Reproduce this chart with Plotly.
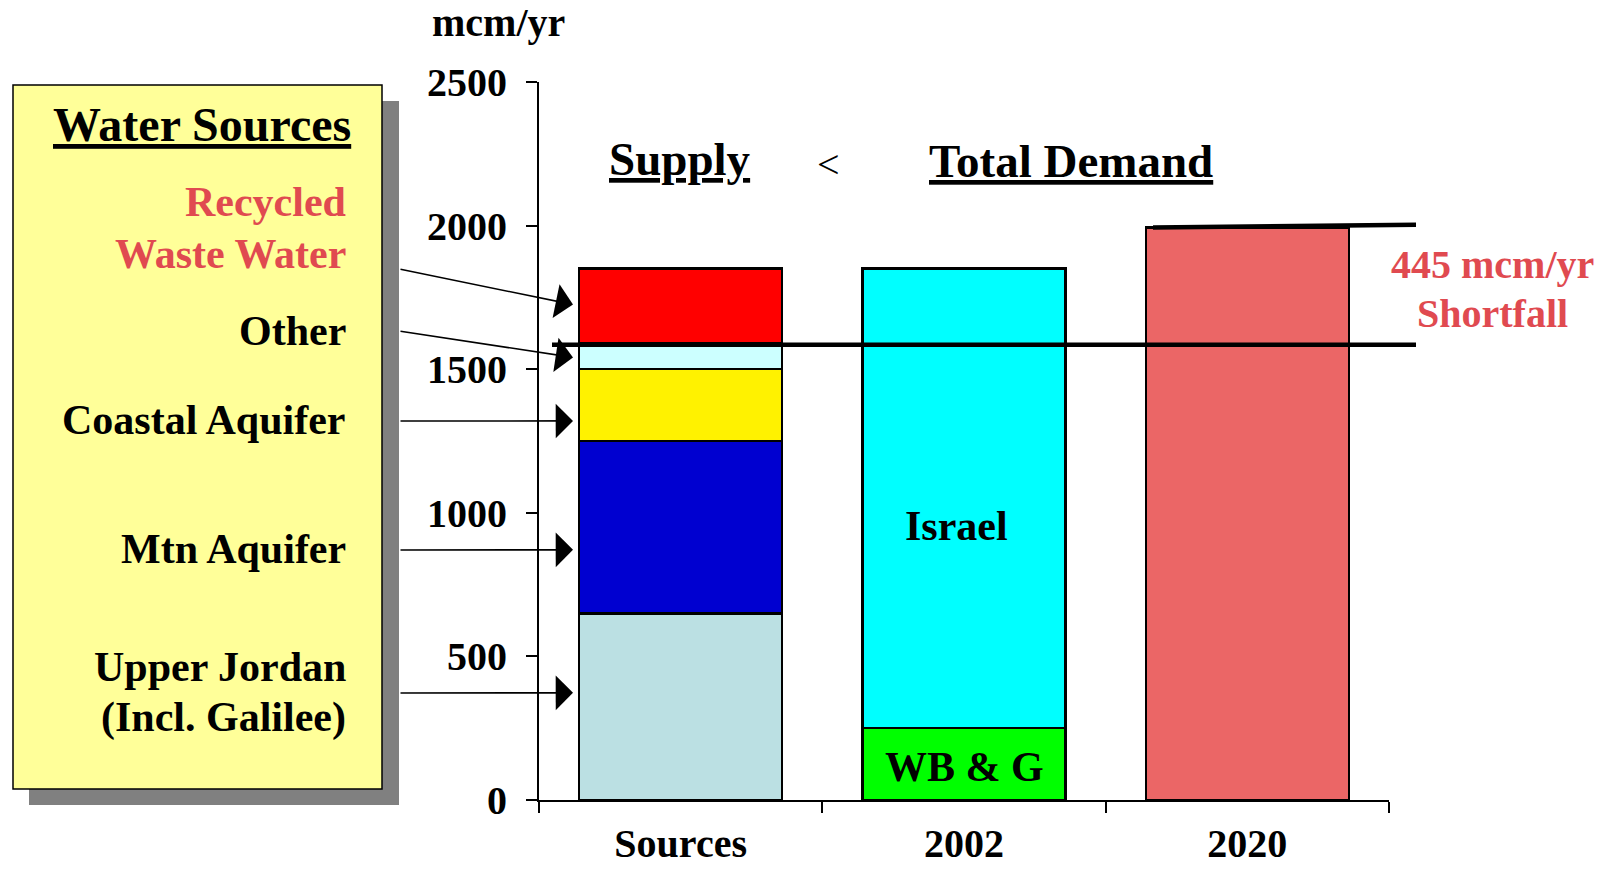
import plotly.graph_objects as go

# ---------------- data ----------------
categories = ["Sources", "2002", "2020"]

source_names = ["Upper Jordan (Incl. Galilee)", "Mtn Aquifer", "Coastal Aquifer", "Other", "Recycled Waste Water"]
source_values = [650, 600, 250, 90, 260]
source_colors = ["#BBE0E3", "#0000D0", "#FFF200", "#CCFFFF", "#FF0000"]

demand_2002_names = ["WB & G", "Israel"]
demand_2002_values = [250, 1600]
demand_2002_colors = ["#00FF00", "#00FFFF"]

demand_2020_value = [1993]
demand_2020_color = "#EB6666"

supply_line_value = 1585
demand_line_values = [1993, 2003]

y_ticks = [0, 500, 1000, 1500, 2000, 2500]

# arrow target values (data units) for the left-hand labels
arrow_targets = [1725, 1541, 1320, 871, 373]

# --------------- layout geometry helpers ---------------
W, H = 1611, 870
L, R, T, B = 539, 222, 82, 70
PW, PH = W - L - R, H - T - B


def px(x):
    return (x - L) / PW


def py(y):
    return (H - B - y) / PH


FONT = "Liberation Serif"
RED_TXT = "#E04A50"

fig = go.Figure()

for name, val, col in zip(source_names, source_values, source_colors):
    fig.add_trace(go.Bar(x=[categories[0]], y=[val], name=name,
                         marker=dict(color=col, line=dict(color="black", width=2.5))))

for name, val, col in zip(demand_2002_names, demand_2002_values, demand_2002_colors):
    fig.add_trace(go.Bar(x=[categories[1]], y=[val], name=name,
                         marker=dict(color=col, line=dict(color="black", width=2.5))))

fig.add_trace(go.Bar(x=[categories[2]], y=demand_2020_value, name="2020",
                     marker=dict(color=demand_2020_color, line=dict(color="black", width=2.5))))

shapes = []
# legend box shadow + box
shapes.append(dict(type="rect", xref="paper", yref="paper", x0=px(29), x1=px(399), y0=py(805), y1=py(101),
                   fillcolor="#808080", line=dict(width=0), layer="above"))
shapes.append(dict(type="rect", xref="paper", yref="paper", x0=px(13), x1=px(382), y0=py(789), y1=py(85),
                   fillcolor="#FFFF99", line=dict(color="black", width=1.5), layer="above"))
# shortfall lines
shapes.append(dict(type="line", xref="paper", yref="y", x0=px(552), x1=px(1416),
                   y0=supply_line_value, y1=supply_line_value,
                   line=dict(color="black", width=4.5), layer="above"))
shapes.append(dict(type="line", xref="paper", yref="y", x0=px(1153), x1=px(1416),
                   y0=demand_line_values[0], y1=demand_line_values[1],
                   line=dict(color="black", width=4.5), layer="above"))

ann = []


def text(x, y, s, size, color="black", xanchor="center", bold=True):
    ann.append(dict(xref="paper", yref="paper", x=px(x), y=py(y), text=s, showarrow=False,
                    xanchor=xanchor, yanchor="middle",
                    font=dict(family=FONT, size=size, color=color, weight="bold" if bold else "normal")))


text(498, 23, "mcm/yr", 40)
text(680, 159, "<u>Supply</u>", 47)
text(828, 164, "<", 40, bold=False)
text(1071, 161, "<u>Total Demand</u>", 47)
text(1492, 264, "445 mcm/yr", 40, color=RED_TXT)
text(1492, 313, "Shortfall", 40, color=RED_TXT)

# legend box text
text(202, 125, "<u>Water Sources</u>", 48)
legend_lines = [("Recycled", 202, RED_TXT), ("Waste Water", 254, RED_TXT), ("Other", 331, "black"),
                ("Coastal Aquifer", 420, "black"), ("Mtn Aquifer", 549, "black"),
                ("Upper Jordan", 667, "black"), ("(Incl. Galilee)", 717, "black")]
for s, y, c in legend_lines:
    text(348, y, s, 42, color=c, xanchor="right")

# bar labels (category index used for x)
idx_2002 = categories.index("2002")
ann.append(dict(x=idx_2002, y=955, xref="x", yref="y", text="Israel", showarrow=False, xshift=-8,
                font=dict(family=FONT, size=42, color="black", weight="bold")))
ann.append(dict(x=idx_2002, y=115, xref="x", yref="y", text="WB & G", showarrow=False,
                font=dict(family=FONT, size=42, color="black", weight="bold")))

# arrows
arrow_tails = [(399, 269), (399, 331), (399, 421), (399, 550), (399, 693)]
head_x = 573
for (tx, ty), val in zip(arrow_tails, arrow_targets):
    hy = (H - B) - val * PH / 2500
    ann.append(dict(xref="paper", yref="y", x=px(head_x), y=val, ax=tx - head_x, ay=ty - hy,
                    axref="pixel", ayref="pixel",
                    text="", showarrow=True, arrowhead=1, arrowsize=3.6, arrowwidth=1.6,
                    arrowcolor="black", standoff=0))

fig.update_layout(
    width=W, height=H,
    margin=dict(l=L, r=R, t=T, b=B, autoexpand=False),
    barmode="stack", bargap=0.283,
    plot_bgcolor="white", paper_bgcolor="white",
    showlegend=False,
    shapes=shapes, annotations=ann,
    hovermode=False,
    xaxis=dict(type="category", categoryorder="array", categoryarray=categories, range=[-0.5, 2.5],
               showline=True, linecolor="black", linewidth=2,
               ticks="outside", tickson="boundaries", ticklen=11, tickwidth=2, tickcolor="black",
               tickfont=dict(family=FONT, size=40, color="black", weight="bold"), showgrid=False, zeroline=False,
               ticklabelstandoff=7),
    yaxis=dict(range=[0, 2500], tickvals=y_ticks, showline=True, linecolor="black", linewidth=2,
               ticks="outside", ticklen=11, tickwidth=2, tickcolor="black",
               tickfont=dict(family=FONT, size=40, color="black", weight="bold"), showgrid=False, zeroline=False,
               ticklabelstandoff=11),
)

fig.write_html("out.html", config={"displayModeBar": False},
               post_script="document.body.style.margin='0';")
